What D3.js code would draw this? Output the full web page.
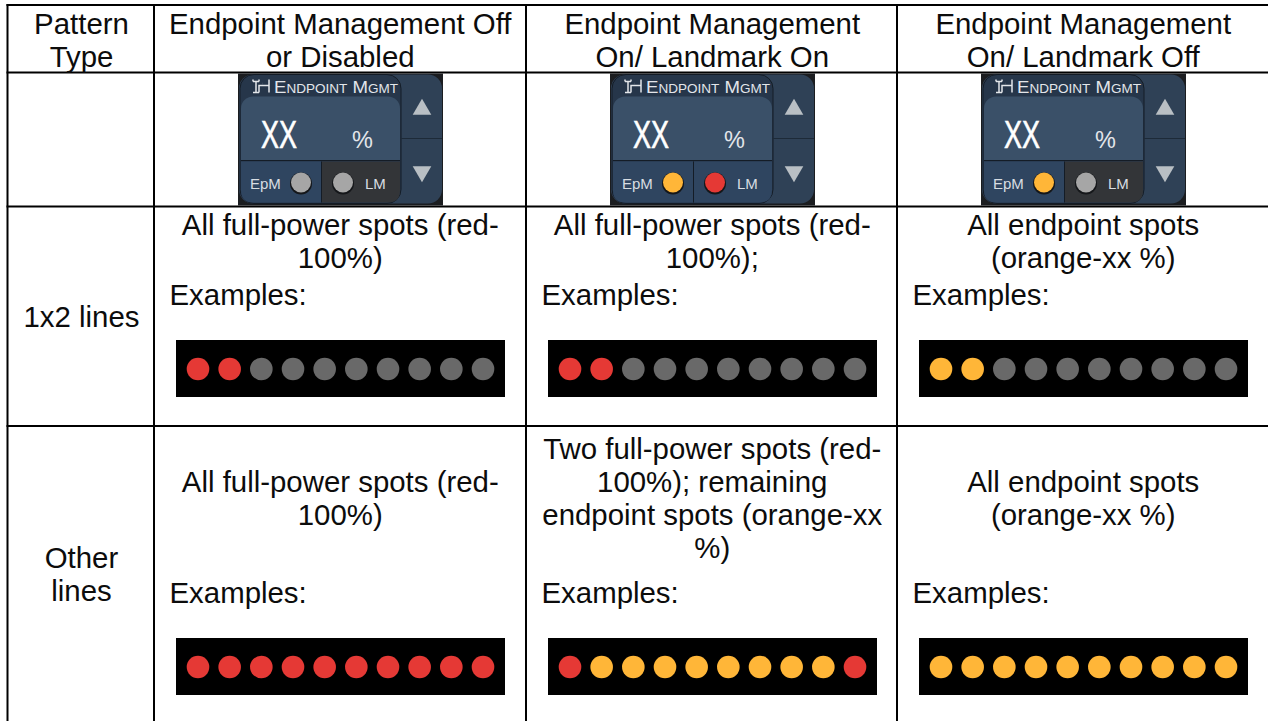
<!DOCTYPE html>
<html>
<head>
<meta charset="utf-8">
<style>
  html, body { margin: 0; padding: 0; background: #fff; }
  svg { display: block; }
  text { font-family: "Liberation Sans", Arial, sans-serif; fill: #0c0c0c; }
</style>
<script src="https://cdn.jsdelivr.net/npm/d3@7"></script>
</head>
<body>
<svg id="chart" width="1268" height="721"></svg>
<script>
const headers = [
  ['Pattern', 'Type'],
  ['Endpoint Management Off', 'or Disabled'],
  ['Endpoint Management', 'On/ Landmark On'],
  ['Endpoint Management', 'On/ Landmark Off']
];
const rowLabels = [['1x2 lines'], ['Other', 'lines']];
const columns = ['off', 'landmarkOn', 'landmarkOff'];
const rows = ['oneByTwo', 'other'];

const cellText = [
  [['All full-power spots (red-', '100%)'], ['All full-power spots (red-', '100%);'], ['All endpoint spots', '(orange-xx %)']],
  [['', 'All full-power spots (red-', '100%)'],
   ['Two full-power spots (red-', '100%); remaining', 'endpoint spots (orange-xx', '%)'],
   ['', 'All endpoint spots', '(orange-xx %)']]
];

// spot states: r = full power, o = endpoint, g = unlit
const spots = [
  ['rrgggggggg', 'rrgggggggg', 'oogggggggg'],
  ['rrrrrrrrrr', 'roooooooor', 'oooooooooo']
];
const ledStates = [['grey', 'grey'], ['orange', 'red'], ['orange', 'grey']];

const spotColor = { r: '#e53935', o: '#ffb638', g: '#696969' };
const ledColor = { grey: '#a6a6a6', orange: '#ffb638', red: '#e53935' };

const svg = d3.select('#chart');

const colEdge = d3.scaleOrdinal().domain(['label'].concat(columns)).range([7.5, 154, 526, 897]);
const colWidth = 371.5;
const rowEdge = [5, 72.5, 206.5, 426];
const lineStep = 33;

const spotX = d3.scalePoint().domain(d3.range(10)).range([22, 307]);

// grid
const grid = svg.append('g').attr('stroke', '#000').attr('stroke-width', 2);
grid.selectAll('line.h').data(rowEdge).join('line')
  .attr('class', 'h')
  .attr('x1', 6.5).attr('x2', 1268)
  .attr('y1', d => d).attr('y2', d => d);
grid.selectAll('line.v').data(colEdge.range()).join('line')
  .attr('class', 'v')
  .attr('x1', d => d).attr('x2', d => d)
  .attr('y1', 4).attr('y2', 721);

const textSize = 29.4;

function lines(g, arr, x, y0, anchor) {
  g.selectAll(null).data(arr).join('text')
    .attr('x', x)
    .attr('y', (d, i) => y0 + i * lineStep)
    .attr('text-anchor', anchor || 'middle')
    .attr('font-size', textSize)
    .text(d => d);
}

// header row
const head = svg.append('g');
lines(head, headers[0], 81.5, 33.8);
columns.forEach((c, i) => lines(head, headers[i + 1], colEdge(c) + colWidth / 2 + 0.5, 33.8));

// row labels
lines(svg.append('g'), rowLabels[0], 81.5, 326.7);
lines(svg.append('g'), rowLabels[1], 81.5, 567.8);

// widget on the second row
function widget(x, states) {
  const g = svg.append('g').attr('transform', `translate(${x},73.5)`);
  g.append('rect').attr('width', 205).attr('height', 132).attr('fill', '#1b1d20');
  g.append('rect').attr('x', 1).attr('y', 1).attr('width', 203).attr('height', 129).attr('rx', 14).attr('fill', '#2f4156');
  // left block
  g.append('rect').attr('x', 2).attr('y', 1).attr('width', 161).attr('height', 129).attr('rx', 14)
    .attr('fill', '#26364a').attr('stroke', '#141c26');
  g.append('rect').attr('x', 3).attr('y', 23).attr('width', 159).attr('height', 64).attr('rx', 12).attr('fill', '#3a5068');
  g.append('rect').attr('x', 3).attr('y', 50).attr('width', 159).attr('height', 37).attr('fill', '#3a5068');
  g.append('line').attr('x1', 3).attr('x2', 162).attr('y1', 87).attr('y2', 87).attr('stroke', '#141c26').attr('stroke-width', 1.2);
  // bottom cells
  g.append('path').attr('d', 'M3,88H83V129H15Q3,129 3,117Z').attr('fill', '#2f4560');
  g.append('path').attr('d', 'M84,88H162V117Q162,129 150,129H84Z')
    .attr('fill', states[1] === 'grey' ? '#333538' : '#2f4560');
  g.append('line').attr('x1', 83.5).attr('x2', 83.5).attr('y1', 88).attr('y2', 129).attr('stroke', '#141c26');
  // arrow buttons
  g.append('line').attr('x1', 163).attr('x2', 204).attr('y1', 65).attr('y2', 65).attr('stroke', '#1d2a38');
  const tri = d3.symbol().type(d3.symbolTriangle).size(150);
  g.append('path').attr('d', tri).attr('transform', 'translate(184,36)').attr('fill', '#b9bfc4');
  g.append('path').attr('d', tri).attr('transform', 'translate(184,98) rotate(180)').attr('fill', '#b9bfc4');
  // title
  g.append('path').attr('d', 'M15,19H21M18,19V8M15,8V6M21,8V6M15,8H21M21,19V12H31V8M31,19V6M24,10H24.1')
    .attr('fill', 'none').attr('stroke', '#e3e6ea').attr('stroke-width', 1.5);
  g.append('text').attr('x', 36).attr('y', 19.5).attr('font-size', 16.5)
    .attr('font-variant', 'small-caps').style('fill', '#e3e6ea')
    .attr('textLength', 124).attr('lengthAdjust', 'spacingAndGlyphs').text('Endpoint Mgmt');
  // value
  g.append('text').attr('x', 23).attr('y', 74).attr('font-size', 38).style('fill', '#fff')
    .style('stroke', '#fff').style('stroke-width', 0.6)
    .attr('textLength', 36).attr('lengthAdjust', 'spacingAndGlyphs').text('XX');
  g.append('text').attr('x', 114).attr('y', 74).attr('font-size', 23.5).style('fill', '#e3e6ea').text('%');
  // switches
  g.append('text').attr('x', 12).attr('y', 115).attr('font-size', 15).style('fill', '#d8dde2').text('EpM');
  g.append('text').attr('x', 127).attr('y', 115).attr('font-size', 15).style('fill', '#d8dde2').text('LM');
  [63, 105].forEach((cx, i) => {
    g.append('circle').attr('cx', cx).attr('cy', 110).attr('r', 11).attr('fill', '#15171a');
    g.append('circle').attr('cx', cx).attr('cy', 109).attr('r', 10).attr('fill', ledColor[states[i]]);
  });
}
[238, 610, 981].forEach((x, i) => widget(x, ledStates[i]));

// body rows
const textTop = [235, 459.3];
const examplesY = [304.5, 602.5];
const panelY = [340, 638];

rows.forEach((r, ri) => {
  columns.forEach((c, ci) => {
    const g = svg.append('g');
    lines(g, cellText[ri][ci], colEdge(c) + colWidth / 2 + 0.5, textTop[ri]);
    g.append('text')
      .attr('x', colEdge(c) + 15.5)
      .attr('y', examplesY[ri])
      .attr('font-size', textSize)
      .text('Examples:');

    const panel = g.append('g').attr('transform', `translate(${colEdge(c) + 22},${panelY[ri]})`);
    panel.append('rect').attr('width', 329).attr('height', 57).attr('fill', '#000');
    panel.selectAll('circle').data(spots[ri][ci].split('')).join('circle')
      .attr('cx', (d, i) => spotX(i))
      .attr('cy', 29)
      .attr('r', 11.3)
      .attr('fill', d => spotColor[d]);
  });
});
</script>
</body>
</html>
